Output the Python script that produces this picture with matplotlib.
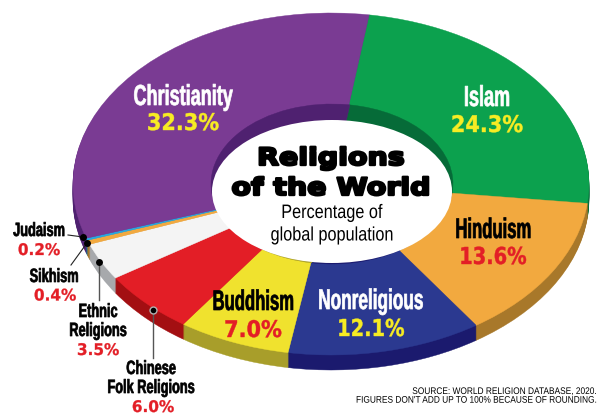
import matplotlib
matplotlib.use('Agg')
import matplotlib.pyplot as plt
import matplotlib.patheffects as pe
from matplotlib.patches import Wedge, Ellipse
from matplotlib.transforms import Affine2D

# Data
religions = ['Islam', 'Hinduism', 'Nonreligious', 'Buddhism', 'Chinese Folk Religions',
             'Ethnic Religions', 'Sikhism', 'Judaism', 'Christianity']
shares = [24.3, 13.6, 12.1, 7.0, 6.0, 3.5, 0.4, 0.2, 32.3]
top_colors = ['#0ca14e', '#f2a93f', '#2b3990', '#f0e22e', '#e31e26', '#f4f4f4', '#f2a93f', '#27a9e1', '#7a3b93']
rim_colors = ['#066b38', '#a8782a', '#1b1a6e', '#a89e2a', '#a30f12', '#a7a9ac', '#a8782a', '#1a6f95', '#4f2170']

NARROW = 'Liberation Sans'
WIDE = 'DejaVu Sans'
RED = '#e31e26'
YELLOW = '#f7ec23'

fig = plt.figure(figsize=(6, 4.2), dpi=100)
ax = fig.add_axes([0, 0, 1, 1])
ax.set_xlim(0, 600)
ax.set_ylim(420, 0)
ax.axis('off')


class StretchY(pe.AbstractPathEffect):
    # the poster type is condensed and no such font is installed, so stretch the glyphs upward
    def __init__(self, baseline, sy, stroke):
        super().__init__()
        self.yd = 420 - baseline
        self.sy = sy
        self.stroke = stroke

    def draw_path(self, renderer, gc, tpath, affine, rgbFace):
        t = affine + Affine2D().translate(0, -self.yd).scale(1, self.sy).translate(0, self.yd)
        gc0 = renderer.new_gc()
        gc0.copy_properties(gc)
        gc0.set_linewidth(self.stroke)
        gc0.set_foreground(rgbFace)
        renderer.draw_path(gc0, tpath, t, rgbFace)
        gc0.restore()


def draw_pie(cx, cy, a, b, colors, start=81.5):
    total = sum(shares)
    theta = start
    tr = Affine2D().scale(a, -b).translate(cx, cy) + ax.transData
    for share, color in zip(shares, colors):
        next_theta = theta - share / total * 360
        ax.add_patch(Wedge((0, 0), 1, next_theta, theta, facecolor=color, edgecolor=color,
                           linewidth=0.3, transform=tr))
        theta = next_theta


# Rim, then top face, then the inner wall and white centre
for dy in range(15, 0, -1):
    draw_pie(331, 184 + dy, 258, 171, rim_colors)
draw_pie(331, 184, 258, 171, top_colors)
draw_pie(332, 184, 121, 80, rim_colors)
ax.add_patch(Ellipse((332, 191.5), 240, 143, facecolor='white', edgecolor='none'))


def label(x, y, s, size, color='black', family=NARROW, sy=1.6, stroke=0.5, weight='bold', ha='center'):
    ax.text(x, y, s, fontsize=size, color=color, family=family, fontweight=weight,
            ha=ha, va='baseline', path_effects=[StretchY(y, sy, stroke)])


label(183, 105, 'Christianity', 13, 'white')
label(183, 130, '32.3%', 15, YELLOW, WIDE, 1.1, 0.3)
label(487, 106, 'Islam', 13, 'white')
label(487, 132, '24.3%', 15, YELLOW, WIDE, 1.1, 0.3)
label(493, 238, 'Hinduism', 12, sy=1.7)
label(493, 264, '13.6%', 14, RED, WIDE, 1.2, 0.3)
label(371, 309, 'Nonreligious', 12.4, 'white', sy=1.65)
label(371, 336, '12.1%', 14, YELLOW, WIDE, 1.2, 0.3)
label(253, 310, 'Buddhism', 12, sy=1.7)
label(253, 337, '7.0%', 15, RED, WIDE, 1.1, 0.3)

label(331, 165, 'Religions', 20.5, family=WIDE, sy=0.84, stroke=1.7)
label(331, 195, 'of the World', 20.5, family=WIDE, sy=0.84, stroke=1.7)
label(332, 218, 'Percentage of', 11.7, sy=1.2, stroke=0, weight='normal')
label(332, 240.5, 'global population', 11.7, sy=1.2, stroke=0, weight='normal')

label(39, 236, 'Judaism', 9.2, sy=1.5)
label(39, 255, '0.2%', 11, RED, WIDE, 1.05, 0.2)
label(54, 282, 'Sikhism', 9.2, sy=1.5)
label(55, 300.5, '0.4%', 11, RED, WIDE, 1.05, 0.2)
label(98, 317, 'Ethnic', 9.2, sy=1.5)
label(98, 336, 'Religions', 9.2, sy=1.5)
label(98, 355, '3.5%', 11, RED, WIDE, 1.05, 0.2)
label(151, 374, 'Chinese', 9.2, sy=1.5)
label(151, 393, 'Folk Religions', 9.2, sy=1.5)
label(153, 412, '6.0%', 11, RED, WIDE, 1.05, 0.2)

# Leader lines
ax.plot([68, 83], [235, 237], color='#222222', lw=0.8)
ax.plot([87, 71], [243, 265], color='#222222', lw=0.8)
ax.plot([99, 99], [262, 300], color='#555555', lw=1.0)
ax.plot([153, 153], [310, 358], color='#555555', lw=1.0)
ax.plot([153], [310], 'o', color='black', ms=5, mec='#b0b0b0', mew=1)
ax.plot([83, 87, 99], [237, 243, 262], 'o', color='black', ms=5, mew=0)

label(597, 394, 'SOURCE: WORLD RELIGION DATABASE, 2020.', 6, sy=1.15, stroke=0, weight='normal', ha='right')
label(597, 402.7, "FIGURES DON'T ADD UP TO 100% BECAUSE OF ROUNDING.", 6, sy=1.15, stroke=0, weight='normal', ha='right')

fig.savefig('out.png', dpi=100)
